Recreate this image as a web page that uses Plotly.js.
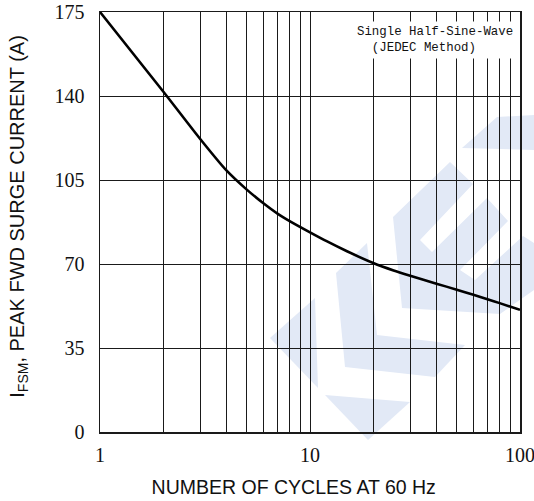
<!DOCTYPE html>
<html>
<head>
<meta charset="utf-8">
<script src="https://cdn.plot.ly/plotly-3.0.1.min.js"></script>
<style>
  html, body { margin: 0; padding: 0; background: #ffffff; }
  #wrap { position: relative; width: 534px; height: 501px; }
  #wm { position: absolute; left: 0; top: 0; z-index: 0; }
  #chart { position: absolute; left: 0; top: 0; width: 534px; height: 501px; z-index: 1; }
</style>
</head>
<body>
<div id="wrap">
  <svg id="wm" width="534" height="501" viewBox="0 0 534 501">
    <g fill="#e2e9f6">
      <polygon points="462,148 497,117 534,115 534,150"/>
      <polygon points="393,217 450,162 473,184 420,240 432,252 487,198 508,221 460,270 475,280 523,236 534,243 534,290 500,314 402,308"/>
      <polygon points="336,273 367,243 377,335 465,345 435,377 345,367"/>
      <polygon points="270,338 315,298 318,388"/>
      <polygon points="325,395 410,402 368,440"/>
    </g>
  </svg>
  <div id="chart"></div>
</div>
<script>
// Data
const cycles = [1, 2, 3, 4, 5, 6, 7, 8, 10, 12, 15, 20, 25, 30, 40, 50, 60, 70, 80, 100];
const surgeCurrent = [175, 141.9, 122.1, 109.0, 101.0, 95.3, 91.0, 87.9, 83.2, 79.5, 75.3, 70.4, 67.3, 65.1, 61.8, 59.3, 57.2, 55.3, 53.7, 50.9];

const xTickVals = [1, 10, 100];
const xTickText = ['1', '10', '100'];
const xMinorGrid = [2, 3, 4, 5, 6, 7, 8, 9, 20, 30, 40, 50, 60, 70, 80, 90];
const yTickVals = [0, 35, 70, 105, 140, 175];

const noteLines = ['Single Half-Sine-Wave', '&nbsp;&nbsp;(JEDEC Method)'];
const xTitle = 'NUMBER OF CYCLES AT 60 Hz';
const yTitle = 'I<sub>FSM</sub>, PEAK FWD SURGE CURRENT (A)';

const trace = {
  x: cycles,
  y: surgeCurrent,
  type: 'scatter',
  mode: 'lines',
  line: { color: '#000000', width: 2.6, shape: 'spline', smoothing: 0.6 },
  hoverinfo: 'skip',
  showlegend: false
};

const layout = {
  width: 534,
  height: 501,
  margin: { l: 100, r: 14, t: 12, b: 69 },
  paper_bgcolor: 'rgba(0,0,0,0)',
  plot_bgcolor: 'rgba(0,0,0,0)',
  showlegend: false,
  xaxis: {
    type: 'log',
    range: [0, 2],
    tickmode: 'array',
    tickvals: xTickVals,
    ticktext: xTickText,
    ticks: '',
    showgrid: true,
    gridcolor: '#1a1a1a',
    gridwidth: 1,
    minor: {
      tickmode: 'array',
      tickvals: xMinorGrid,
      ticks: '',
      showgrid: true,
      gridcolor: '#1a1a1a',
      gridwidth: 1
    },
    showline: true,
    linecolor: '#1a1a1a',
    linewidth: 1.5,
    mirror: true,
    zeroline: false,
    ticklabelstandoff: 4,
    ticklabeloverflow: 'allow',
    tickfont: { family: 'Liberation Serif, Times New Roman, serif', size: 20, color: '#111111' },
    title: {
      text: xTitle + '&nbsp;&nbsp;&nbsp;&nbsp;&nbsp;&nbsp;',
      font: { family: 'Liberation Sans, Arial, sans-serif', size: 19.5, color: '#111111' },
      standoff: 16
    }
  },
  yaxis: {
    range: [0, 175],
    tickmode: 'array',
    tickvals: yTickVals,
    ticks: '',
    showgrid: true,
    gridcolor: '#1a1a1a',
    gridwidth: 1,
    showline: true,
    linecolor: '#1a1a1a',
    linewidth: 1.5,
    mirror: true,
    zeroline: false,
    ticklabelstandoff: 10,
    ticklabeloverflow: 'allow',
    tickfont: { family: 'Liberation Serif, Times New Roman, serif', size: 20, color: '#111111' },
    title: {
      text: '&nbsp;&nbsp;' + yTitle,
      font: { family: 'Liberation Sans, Arial, sans-serif', size: 20, color: '#111111' },
      standoff: 24
    }
  },
  annotations: [{
    xref: 'paper', yref: 'paper',
    x: 0.798, y: 0.933,
    xanchor: 'center', yanchor: 'middle',
    text: noteLines.join('<br>'),
    showarrow: false,
    align: 'left',
    bgcolor: '#ffffff',
    borderpad: 3,
    font: { family: 'Liberation Mono, DejaVu Sans Mono, monospace', size: 12.4, color: '#111111' }
  }]
};

Plotly.newPlot('chart', [trace], layout, { displayModeBar: false, staticPlot: true });
</script>
</body>
</html>
